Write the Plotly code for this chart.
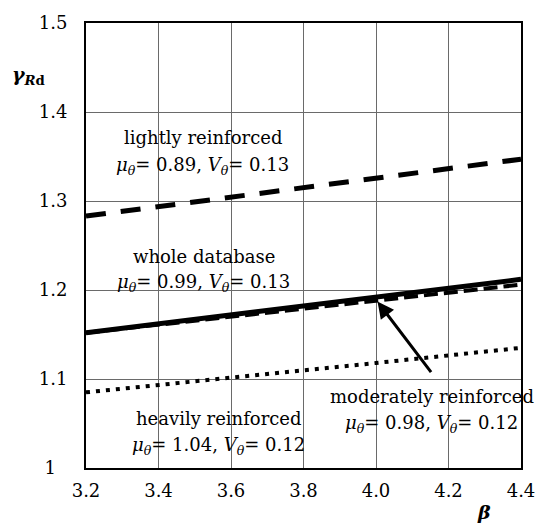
import plotly.graph_objects as go

# Reliability index and partial safety factor curves
beta = [3.2, 3.6, 4.0, 4.4]
gamma_lightly = [1.283, 1.304, 1.326, 1.347]
gamma_whole = [1.152, 1.172, 1.192, 1.212]
gamma_moderately = [1.152, 1.170, 1.188, 1.206]
gamma_heavily = [1.085, 1.101, 1.118, 1.135]

x_ticks = [3.2, 3.4, 3.6, 3.8, 4.0, 4.2, 4.4]
x_tick_text = ["3.2", "3.4", "3.6", "3.8", "4.0", "4.2", "4.4"]
y_ticks = [1.0, 1.1, 1.2, 1.3, 1.4, 1.5]
y_tick_text = ["1\u00a0\u00a0", "1.1", "1.2", "1.3", "1.4", "1.5"]

FONT = "DejaVu Serif"

fig = go.Figure()

fig.add_trace(go.Scatter(x=beta, y=gamma_lightly, mode="lines",
                         line=dict(color="black", width=5, dash="20px,15px")))
fig.add_trace(go.Scatter(x=beta, y=gamma_moderately, mode="lines",
                         line=dict(color="black", width=4, dash="14px,6px")))
fig.add_trace(go.Scatter(x=beta, y=gamma_whole, mode="lines",
                         line=dict(color="black", width=5)))
fig.add_trace(go.Scatter(x=beta, y=gamma_heavily, mode="lines",
                         line=dict(color="black", width=4, dash="4px,6px")))

lab_font = dict(family=FONT, size=18, color="black")


def stats(mu, v):
    return (f"<i>μ</i><sub><i>θ</i></sub>= {mu}, "
            f"<i>V</i><sub><i>θ</i></sub>= {v}")


labels = [
    (3.522, 1.371, "lightly reinforced"),
    (3.522, 1.339, stats("0.89", "0.13")),
    (3.525, 1.238, "whole database"),
    (3.525, 1.208, stats("0.99", "0.13")),
    (3.568, 1.056, "heavily reinforced"),
    (3.565, 1.025, stats("1.04", "0.12")),
    (4.154, 1.080, "moderately reinforced"),
    (4.152, 1.049, stats("0.98", "0.12")),
]
for x, y, t in labels:
    fig.add_annotation(x=x, y=y, text=t, showarrow=False, font=lab_font,
                       xanchor="center", yanchor="middle")

# arrow pointing at the moderately reinforced curve
fig.add_annotation(x=4.004, y=1.187, ax=4.155, ay=1.106, axref="x", ayref="y",
                   text="", showarrow=True, arrowhead=2, arrowsize=1.1,
                   arrowwidth=3, arrowcolor="black", standoff=0)

# axis titles
fig.add_annotation(xref="paper", yref="paper", x=-0.133, y=0.881,
                   text="<b><i>γ</i></b><sub><b><i>R</i>d</b></sub>",
                   showarrow=False, font=dict(family=FONT, size=19, color="black"),
                   xanchor="center", yanchor="middle")
fig.add_annotation(xref="paper", yref="paper", x=0.914, y=-0.098,
                   text="<b><i>β</i></b>", showarrow=False,
                   font=dict(family=FONT, size=19, color="black"),
                   xanchor="center", yanchor="middle")

fig.update_xaxes(range=[3.2, 4.4], tickvals=x_ticks, ticktext=x_tick_text,
                 showgrid=True, gridcolor="#6a6a6a", gridwidth=1,
                 showline=True, linecolor="black", linewidth=2, mirror=True,
                 zeroline=False, ticks="", ticklabelstandoff=5,
                 tickfont=dict(family=FONT, size=18, color="black"))
fig.update_yaxes(range=[1.0, 1.5], tickvals=y_ticks, ticktext=y_tick_text,
                 showgrid=True, gridcolor="#6a6a6a", gridwidth=1,
                 showline=True, linecolor="black", linewidth=2, mirror=True,
                 zeroline=False, ticks="", ticklabelstandoff=13,
                 tickfont=dict(family=FONT, size=18, color="black"))

fig.update_layout(width=547, height=527, showlegend=False,
                  margin=dict(l=86, r=17, t=22, b=59),
                  paper_bgcolor="white", plot_bgcolor="white",
                  font=dict(family=FONT, color="black"))

fig.write_html("out.html")
